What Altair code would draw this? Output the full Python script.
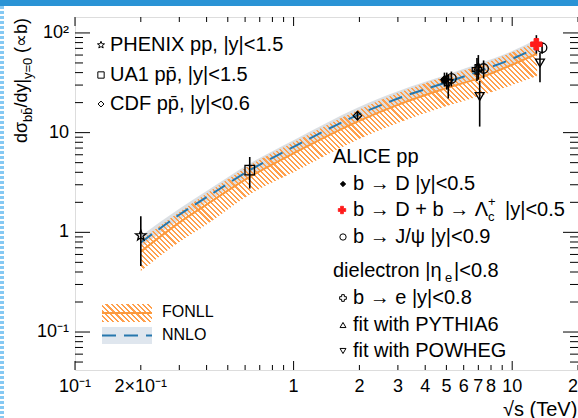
import math
import altair as alt
import pandas as pd

# ---------------- data (sqrt(s) in TeV, dsigma/dy in microbarn) ----------------
band_x   = [0.2, 0.3, 0.4, 0.63, 1.0, 1.96, 3.0, 5.02, 7.0, 10.0, 13.0]
fonll_c  = [0.64, 1.25, 1.9, 3.6, 6.2, 12.9, 19.0, 28.0, 35.0, 48.0, 62.0]
fonll_lo = [0.41, 0.80, 1.2, 2.4, 4.0, 8.5, 12.5, 18.5, 23.0, 30.0, 37.0]
fonll_hi = [0.84, 1.6, 2.45, 4.7, 8.0, 16.8, 25.0, 37.0, 47.0, 64.0, 82.0]
nnlo_c   = [0.79, 1.5, 2.25, 4.2, 7.2, 15.0, 22.0, 32.0, 41.0, 55.0, 71.0]
nnlo_lo  = [0.71, 1.33, 2.0, 3.7, 6.3, 13.0, 19.0, 28.0, 36.0, 47.0, 60.0]
nnlo_hi  = [0.92, 1.72, 2.6, 4.9, 8.4, 17.8, 26.0, 38.0, 49.0, 66.0, 87.0]

phenix_x, phenix_y, phenix_lo, phenix_hi = [0.2], [0.93], [0.46], [1.45]
ua1_x, ua1_y, ua1_lo, ua1_hi = [0.63], [4.2], [2.75], [5.7]
cdf_x, cdf_y, cdf_lo, cdf_hi = [1.96], [14.8], [13.3], [16.4]
bD_x, bD_y, bD_lo, bD_hi = [4.9], [34.0], [29.0], [40.0]
bLc_x, bLc_y, bLc_lo, bLc_hi = [12.9], [77.0], [62.0], [95.0]
jpsi_x, jpsi_y, jpsi_lo, jpsi_hi = [5.27, 7.4, 13.7], [35.0, 44.0, 71.0], [29.0, 35.0, 62.0], [41.0, 53.0, 80.0]
be_x, be_y, be_lo, be_hi = [5.02, 6.9], [33.0, 43.0], [27.0, 33.0], [40.0, 56.0]
py6_x, py6_y, py6_lo, py6_hi = [7.0], [46.0], [34.0], [60.0]
pow_x, pow_y, pow_lo, pow_hi = [5.1, 7.1, 13.4], [31.0, 23.0, 50.0], [22.0, 11.5, 32.0], [38.0, 33.0, 63.0]

x_label_vals = [0.1, 0.2, 1, 2, 3, 4, 5, 6, 7, 8, 10, 20]
x_label_text = ["10⁻¹", "2×10⁻¹", "1", "2", "3", "4", "5", "6", "7", "8", "10", "20"]
y_label_vals = [0.1, 1, 10, 100]
y_label_text = ["10⁻¹", "1", "10", "10²"]
x_major = [0.1, 1, 10]
x_minor = [0.2, 0.3, 0.4, 0.5, 0.6, 0.7, 0.8, 0.9, 2, 3, 4, 5, 6, 7, 8, 9, 20]
y_major = [0.1, 1, 10, 100]
y_minor = [0.05, 0.06, 0.07, 0.08, 0.09, 0.2, 0.3, 0.4, 0.5, 0.6, 0.7, 0.8, 0.9,
           2, 3, 4, 5, 6, 7, 8, 9, 20, 30, 40, 50, 60, 70, 80, 90]

# ---------------- layout ----------------
W, H = 503, 353
PADL, PADT = 75, 17
XMIN, XMAX = 0.1, 20.0
YMIN, YMAX = 0.0416, 144.5
FONT = "Liberation Sans"
ORANGE = "#ffa04d"
ORANGE_LINE = "#fb9a3e"
BLUE = "#2677ad"
GRAY = "#d9dde1"

xscale = alt.Scale(type="log", domain=[XMIN, XMAX], nice=False, zero=False)
yscale = alt.Scale(type="log", domain=[YMIN, YMAX], nice=False, zero=False)
dummy = pd.DataFrame({"d": [0]})


def px(v):
    return W * (math.log10(v) - math.log10(XMIN)) / (math.log10(XMAX) - math.log10(XMIN))


def py(v):
    return H * (math.log10(YMAX) - math.log10(v)) / (math.log10(YMAX) - math.log10(YMIN))


def hatch(wpx, hpx, period, color, frac=0.42):
    r = hpx / wpx
    s = (1 + r) / (1 + r * r)
    n = max(2, round(wpx * (1 + r) / (period * math.sqrt(2))))
    clear = "rgba(255,160,77,0)"
    stops = []
    for i in range(n):
        a, b, c = i / n, (i + frac) / n, (i + 1) / n
        stops += [
            alt.GradientStop(offset=round(a, 5), color=color),
            alt.GradientStop(offset=round(b, 5), color=color),
            alt.GradientStop(offset=round(b, 5), color=clear),
            alt.GradientStop(offset=round(c, 5), color=clear),
        ]
    return alt.LinearGradient(gradient="linear", stops=stops, x1=0, y1=1, x2=s, y2=1 - s * r)


band = pd.DataFrame({"x": band_x, "fc": fonll_c, "flo": fonll_lo, "fhi": fonll_hi,
                     "nc": nnlo_c, "nlo": nnlo_lo, "nhi": nnlo_hi})

X = lambda f: alt.X(f, scale=xscale, axis=None)
Y = lambda f: alt.Y(f, scale=yscale, axis=None)

layers = []

# NNLO band (gray)
layers.append(alt.Chart(band).mark_area(color=GRAY, opacity=0.95, interpolate="monotone").encode(
    x=X("x:Q"), y=Y("nlo:Q"), y2="nhi:Q"))

# FONLL hatched band
bw = px(max(band_x)) - px(min(band_x))
bh = py(min(fonll_lo)) - py(max(fonll_hi))
layers.append(alt.Chart(band).mark_area(color=hatch(bw, bh, 3.6, ORANGE), interpolate="monotone").encode(
    x=X("x:Q"), y=Y("flo:Q"), y2="fhi:Q"))

layers.append(alt.Chart(band).mark_line(color=ORANGE_LINE, strokeWidth=2, interpolate="monotone").encode(
    x=X("x:Q"), y=Y("fc:Q")))
layers.append(alt.Chart(band).mark_line(color=BLUE, strokeWidth=2, strokeDash=[14, 8], interpolate="monotone").encode(
    x=X("x:Q"), y=Y("nc:Q")))


def series(xs, ys, lo, hi, shape, size, filled, color="black", stroke="black"):
    df = pd.DataFrame({"x": xs, "y": ys, "lo": lo, "hi": hi})
    err = alt.Chart(df).mark_rule(color="black", strokeWidth=1.6).encode(
        x=X("x:Q"), y=Y("lo:Q"), y2="hi:Q")
    if filled:
        pt = alt.Chart(df).mark_point(shape=shape, size=size, filled=True, fill=color, stroke=stroke,
                                      strokeWidth=1, opacity=1)
    else:
        pt = alt.Chart(df).mark_point(shape=shape, size=size, filled=False, color=color,
                                      strokeWidth=1.3, opacity=1)
    pt = pt.encode(x=X("x:Q"), y=Y("y:Q"))
    return [err, pt]


pts = []
for k in range(10):
    rr = 1.0 if k % 2 == 0 else 0.42
    a = -math.pi / 2 + k * math.pi / 5
    pts.append(f"{rr * math.cos(a):.3f},{rr * math.sin(a):.3f}")
STAR = "M" + " L".join(pts) + " Z"

layers += series(phenix_x, phenix_y, phenix_lo, phenix_hi, STAR, 120, False)
layers += series(ua1_x, ua1_y, ua1_lo, ua1_hi, "square", 90, False)
layers += series(cdf_x, cdf_y, cdf_lo, cdf_hi, "diamond", 70, False)
layers += series(pow_x, pow_y, pow_lo, pow_hi, "triangle-down", 80, False)
layers += series(py6_x, py6_y, py6_lo, py6_hi, "triangle-up", 70, False)
layers += series(be_x, be_y, be_lo, be_hi, "cross", 90, False)
layers += series(jpsi_x, jpsi_y, jpsi_lo, jpsi_hi, "circle", 90, False)
layers += series(bD_x, bD_y, bD_lo, bD_hi, "diamond", 70, True)
layers += series(bLc_x, bLc_y, bLc_lo, bLc_hi, "cross", 130, True, color="#ff1a1a", stroke="#ff1a1a")

# ---------------- frame ticks (inward, ROOT style) ----------------
def yticks(vals, length):
    df = pd.DataFrame({"v": vals})
    left = alt.Chart(df).mark_rule(color="black", strokeWidth=1).encode(
        y=Y("v:Q"), x=alt.value(0), x2=alt.value(length))
    right = alt.Chart(df).mark_rule(color="black", strokeWidth=1).encode(
        y=Y("v:Q"), x=alt.value(W - length), x2=alt.value(W))
    return [left, right]


def xticks(vals, length):
    df = pd.DataFrame({"v": vals})
    bot = alt.Chart(df).mark_rule(color="black", strokeWidth=1).encode(
        x=X("v:Q"), y=alt.value(H), y2=alt.value(H - length))
    top = alt.Chart(df).mark_rule(color="black", strokeWidth=1).encode(
        x=X("v:Q"), y=alt.value(0), y2=alt.value(length))
    return [bot, top]


layers += yticks(y_major, 15) + yticks(y_minor, 8)
layers += xticks(x_major, 9) + xticks(x_minor, 5)

# tick labels placed through the scales
xl = pd.DataFrame({"v": x_label_vals, "t": x_label_text})
layers.append(alt.Chart(xl).mark_text(font=FONT, fontSize=18, color="black", align="center", baseline="middle").encode(
    x=X("v:Q"), y=alt.value(H + 17), text="t:N"))
yl = pd.DataFrame({"v": y_label_vals, "t": y_label_text})
layers.append(alt.Chart(yl).mark_text(font=FONT, fontSize=18, color="black", align="right", baseline="middle").encode(
    y=Y("v:Q"), x=alt.value(-6), text="t:N"))


# ---------------- text helpers (page coordinates) ----------------
def txt(s, x, y, size=20, align="left", baseline="middle", angle=0, color="black"):
    return alt.Chart(dummy).mark_text(text=s, align=align, baseline=baseline, angle=angle,
                                      fontSize=size, font=FONT, color=color).encode(
        x=alt.value(x - PADL), y=alt.value(y - PADT))


def sym(shape, x, y, size, filled, color="black"):
    if filled:
        m = alt.Chart(dummy).mark_point(shape=shape, size=size, filled=True, fill=color, stroke=color,
                                        strokeWidth=0.8, opacity=1)
    else:
        m = alt.Chart(dummy).mark_point(shape=shape, size=size, filled=False, color=color,
                                        strokeWidth=1, opacity=1)
    return m.encode(x=alt.value(x - PADL), y=alt.value(y - PADT))


def box(x0, x1, y0, y1, color):
    return alt.Chart(dummy).mark_rect(color=color).encode(
        x=alt.value(x0 - PADL), x2=alt.value(x1 - PADL), y=alt.value(y0 - PADT), y2=alt.value(y1 - PADT))


def hline(x0, x1, y, color, width, dash=None):
    kw = dict(color=color, strokeWidth=width)
    if dash:
        kw["strokeDash"] = dash
    return alt.Chart(dummy).mark_rule(**kw).encode(
        x=alt.value(x0 - PADL), x2=alt.value(x1 - PADL), y=alt.value(y - PADT))


# page decorations (blue top bar, dotted left border)
layers.append(box(0, 578, 0, 6, "#2a93d5"))
layers.append(alt.Chart(dummy).mark_rule(color="#86c9f3", strokeWidth=4, strokeDash=[3, 2]).encode(
    x=alt.value(2 - PADL), y=alt.value(6 - PADT), y2=alt.value(418 - PADT)))

# top-left legend
layers.append(sym(STAR, 101, 45, 55, False))
layers.append(txt("PHENIX pp, |y|<1.5", 110, 45))
layers.append(sym("square", 101, 75, 40, False))
layers.append(txt("UA1 pp̄, |y|<1.5", 110, 75))
layers.append(sym("diamond", 101, 104, 35, False))
layers.append(txt("CDF pp̄, |y|<0.6", 110, 104))

# ALICE legend
layers.append(txt("ALICE pp", 333, 157))
layers.append(sym("diamond", 343, 184, 30, True))
layers.append(txt("b → D |y|<0.5", 353, 184))
layers.append(sym("cross", 342, 210, 55, True, "#ff1a1a"))
layers.append(txt("b → D + b → Λ", 353, 210))
layers.append(txt("+", 488, 202, 13))
layers.append(txt("c", 488, 217, 13))
layers.append(txt("|y|<0.5", 505, 210))
layers.append(sym("circle", 343, 237, 40, False))
layers.append(txt("b → J/ψ |y|<0.9", 353, 237))
layers.append(txt("dielectron |η", 333, 271))
layers.append(txt("e", 445, 278, 13))
layers.append(txt("|<0.8", 454, 271))
layers.append(sym("cross", 343, 298, 45, False))
layers.append(txt("b → e |y|<0.8", 353, 298))
layers.append(sym("triangle-up", 343, 325, 35, False))
layers.append(txt("fit with PYTHIA6", 353, 325))
layers.append(sym("triangle-down", 343, 351, 35, False))
layers.append(txt("fit with POWHEG", 353, 351))

# bottom-left legend
layers.append(alt.Chart(dummy).mark_rect(color=hatch(50, 18, 3.6, ORANGE)).encode(
    x=alt.value(102 - PADL), x2=alt.value(152 - PADL), y=alt.value(304 - PADT), y2=alt.value(322 - PADT)))
layers.append(hline(102, 152, 313, ORANGE_LINE, 2))
layers.append(txt("FONLL", 162, 312, 16))
layers.append(box(102, 152, 327, 344, "#dfe6ee"))
layers.append(hline(102, 152, 335.5, BLUE, 2, [14, 8]))
layers.append(txt("NNLO", 162, 335, 16))

# axis titles
layers.append(txt("√s (TeV)", 503, 410, 20, align="left"))
layers.append(txt("dσ", 27, 143, 18, baseline="alphabetic", angle=270))
layers.append(txt("bb̄", 32, 122, 13, baseline="alphabetic", angle=270))
layers.append(txt("/dy|", 27, 107.5, 18, baseline="alphabetic", angle=270))
layers.append(txt("y=0", 32, 79, 13, baseline="alphabetic", angle=270))
layers.append(txt("(∝b)", 27, 53, 18, baseline="alphabetic", angle=270))

chart = alt.layer(*layers).properties(
    width=W, height=H,
    autosize=alt.AutoSizeParams(type="none"),
    padding={"left": PADL, "top": PADT, "right": 0, "bottom": 418 - PADT - H},
).configure_view(stroke="black", strokeWidth=1.2).configure(background="white")

chart.save("out.html", embed_options={"renderer": "svg", "actions": False})
